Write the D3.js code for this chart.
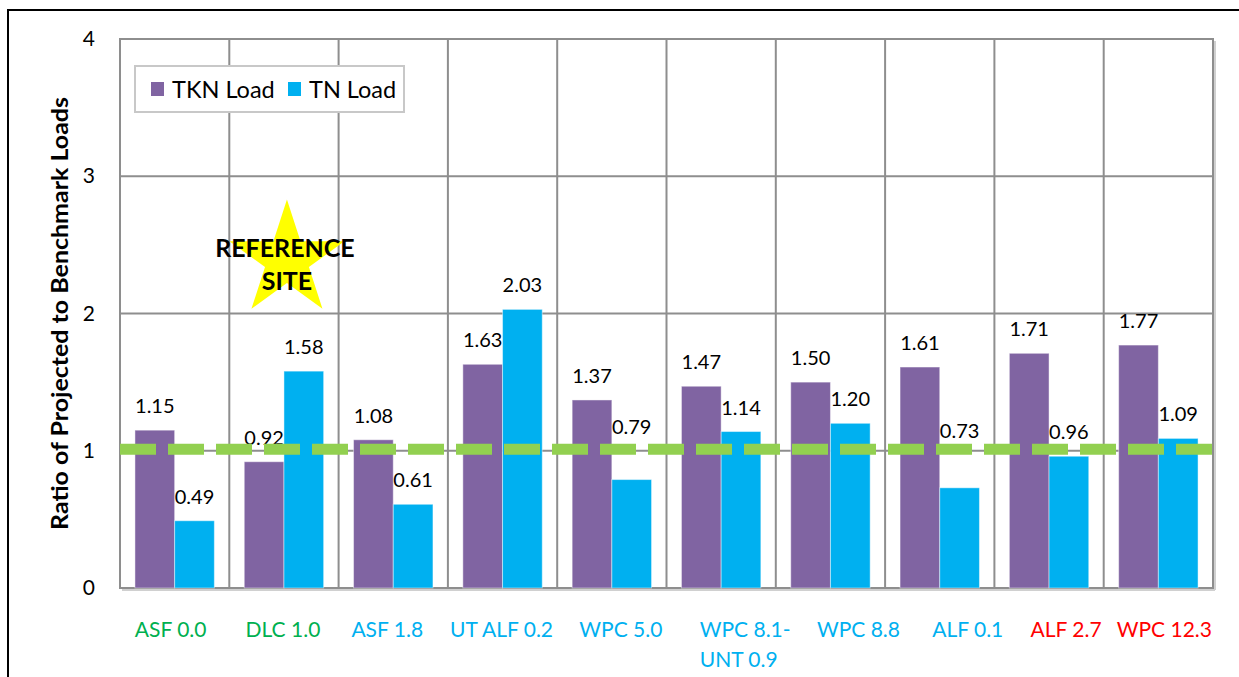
<!DOCTYPE html>
<html>
<head>
<meta charset="utf-8">
<script src="https://cdn.jsdelivr.net/npm/d3@7/dist/d3.min.js"></script>
<style>
  html, body { margin: 0; padding: 0; background: #fff; }
  svg { display: block; font-family: Lato, "Open Sans", "Liberation Sans", sans-serif; }
</style>
</head>
<body>
<svg id="chart" width="1239" height="677"></svg>
<script>
// Sites along the river, in chart order
const categories = ["ASF 0.0", "DLC 1.0", "ASF 1.8", "UT ALF 0.2", "WPC 5.0",
                    "WPC 8.1-\nUNT 0.9", "WPC 8.8", "ALF 0.1", "ALF 2.7", "WPC 12.3"];
// Ratio of projected to benchmark loads
const tknLoad = [1.15, 0.92, 1.08, 1.63, 1.37, 1.47, 1.50, 1.61, 1.71, 1.77];
const tnLoad  = [0.49, 1.58, 0.61, 2.03, 0.79, 1.14, 1.20, 0.73, 0.96, 1.09];
const seriesNames = ["TKN Load", "TN Load"];
const yTicks = [0, 1, 2, 3, 4];
const benchmark = 1;          // ratio of 1 = benchmark
const referenceSite = "DLC 1.0";

// Styling / layout helpers
const seriesColors = ["#8064A2", "#00B0F0"];
const labelColors = ["#00B050", "#00B050", "#00B0F0", "#00B0F0", "#00B0F0",
                     "#00B0F0", "#00B0F0", "#00B0F0", "#FF0000", "#FF0000"];
const labelShift = [-4, -1, -6, -1, 9, 24, 28, 28, 17, 6];       // px, category label nudges
const tnLabelLift = [0, 0, 0, 0, 0.21, 0, 0, 0.24, 0, 0];          // value units, keeps labels clear of the line

const svg = d3.select("#chart");
const W = 1239, H = 677;
const plot = { left: 120, right: 1213, top: 39, bottom: 588 };

// Outer frame
svg.append("rect").attr("x", 8).attr("y", 10).attr("width", W).attr("height", H + 40)
  .attr("fill", "none").attr("stroke", "#000").attr("stroke-width", 2);

const x = d3.scaleBand().domain(categories).range([plot.left, plot.right]).padding(0);
const x1 = d3.scaleBand().domain(seriesNames).range([0, x.bandwidth()])
  .paddingInner(0).paddingOuter(0.3766);
const y = d3.scaleLinear().domain([0, 4]).range([plot.bottom, plot.top]);

const gridColor = "#8E8E8E";

// Horizontal gridlines
svg.append("g").selectAll("line").data(yTicks.filter(t => t > 0)).join("line")
  .attr("x1", plot.left).attr("x2", plot.right)
  .attr("y1", d => y(d)).attr("y2", d => y(d))
  .attr("stroke", gridColor).attr("stroke-width", 2);

// Vertical gridlines at category boundaries
svg.append("g").selectAll("line").data(categories.slice(1)).join("line")
  .attr("x1", d => x(d)).attr("x2", d => x(d))
  .attr("y1", plot.top).attr("y2", plot.bottom)
  .attr("stroke", gridColor).attr("stroke-width", 2);

// Plot frame (with a light shadow on right/bottom)
svg.append("line").attr("x1", plot.right + 2).attr("x2", plot.right + 2)
  .attr("y1", plot.top + 2).attr("y2", plot.bottom + 2).attr("stroke", "#d0d0d0").attr("stroke-width", 2);
svg.append("line").attr("x1", plot.left + 2).attr("x2", plot.right + 2)
  .attr("y1", plot.bottom + 2).attr("y2", plot.bottom + 2).attr("stroke", "#d0d0d0").attr("stroke-width", 2);
svg.append("rect").attr("x", plot.left).attr("y", plot.top)
  .attr("width", plot.right - plot.left).attr("height", plot.bottom - plot.top)
  .attr("fill", "none").attr("stroke", gridColor).attr("stroke-width", 2);

// Y axis tick labels
const yAxis = d3.axisLeft(y).tickValues(yTicks).tickFormat(d3.format("d")).tickSize(0).tickPadding(25);
const gy = svg.append("g").attr("transform", `translate(${plot.left},0)`).call(yAxis);
gy.select(".domain").remove();
gy.selectAll("text").attr("font-size", 21).attr("fill", "#000")
  .attr("font-family", "Lato, sans-serif");

// Y axis title
svg.append("text")
  .attr("transform", `translate(59,${(97 + 530) / 2}) rotate(-90)`)
  .attr("text-anchor", "middle").attr("dominant-baseline", "central")
  .attr("font-size", 22).attr("font-weight", "bold").attr("fill", "#000")
  .attr("textLength", 433).attr("lengthAdjust", "spacingAndGlyphs")
  .text("Ratio of Projected to Benchmark Loads");

// Bars
const rows = categories.map((c, i) => ({ cat: c, i, values: [tknLoad[i], tnLoad[i]] }));
const groups = svg.append("g").selectAll("g").data(rows).join("g")
  .attr("transform", d => `translate(${x(d.cat)},0)`);
groups.selectAll("rect").data(d => d.values.map((v, k) => ({ v, k, name: seriesNames[k] }))).join("rect")
  .attr("x", d => x1(d.name)).attr("width", x1.bandwidth())
  .attr("y", d => y(d.v)).attr("height", d => y(0) - y(d.v))
  .attr("fill", d => seriesColors[d.k])
  .attr("stroke", "rgba(255,255,255,0.45)").attr("stroke-width", 1);

// Benchmark line
svg.append("line")
  .attr("x1", plot.left).attr("x2", plot.right)
  .attr("y1", y(benchmark) - 1.5).attr("y2", y(benchmark) - 1.5)
  .attr("stroke", "#92D050").attr("stroke-width", 11)
  .attr("stroke-dasharray", "36 12");

// Value labels
const fmt = d3.format(".2f");
groups.selectAll("text.val").data(d => d.values.map((v, k) => ({
    v, k, name: seriesNames[k], lift: k === 1 ? tnLabelLift[d.i] : 0 }))).join("text")
  .attr("class", "val")
  .attr("x", d => x1(d.name) + x1.bandwidth() / 2)
  .attr("y", d => y(d.v + d.lift) - 25)
  .attr("text-anchor", "middle").attr("dominant-baseline", "central")
  .attr("font-size", 20).attr("fill", "#000")
  .text(d => fmt(d.v));

// Category labels
const catLabels = svg.append("g").selectAll("text").data(categories).join("text")
  .attr("font-size", 21)
  .attr("fill", (d, i) => labelColors[i]);
catLabels.each(function (d, i) {
  const t = d3.select(this);
  const lines = d.split("\n");
  const cx = x(d) + x.bandwidth() / 2 + labelShift[i];
  lines.forEach((ln, j) => {
    t.append("tspan").attr("y", 628 + j * 30).attr("dominant-baseline", "central").text(ln);
  });
  if (lines.length === 1) {
    t.attr("text-anchor", "middle").selectAll("tspan").attr("x", cx);
  } else {
    const widths = t.selectAll("tspan").nodes().map(n => n.getComputedTextLength());
    const x0 = cx - d3.max(widths) / 2;
    t.attr("text-anchor", "start").selectAll("tspan").attr("x", x0);
  }
});

// Legend
const legend = svg.append("g");
legend.append("rect").attr("x", 135).attr("y", 66).attr("width", 269).attr("height", 46)
  .attr("fill", "#fff").attr("stroke", "#C8C8C8").attr("stroke-width", 2);
const legendX = [151, 288];
seriesNames.forEach((name, k) => {
  legend.append("rect").attr("x", legendX[k]).attr("y", 82).attr("width", 13).attr("height", 14)
    .attr("fill", seriesColors[k]);
  legend.append("text").attr("x", legendX[k] + 21).attr("y", 89)
    .attr("dominant-baseline", "central").attr("font-size", 23.5).attr("fill", "#000")
    .text(name);
});

// Reference site star
const starX = x(referenceSite) + x.bandwidth() / 2 + 3;
const starY = y(2.39);
const starR = 60.4;
svg.append("path")
  .attr("d", d3.symbol(d3.symbolStar, starR * starR / 0.8908130915292852)())
  .attr("transform", `translate(${starX},${starY})`)
  .attr("fill", "#FFFF00");
svg.append("text").attr("x", starX - 2).attr("y", starY - 13)
  .attr("text-anchor", "middle").attr("dominant-baseline", "central")
  .attr("font-size", 25).attr("font-weight", "bold").attr("fill", "#000")
  .text("REFERENCE");
svg.append("text").attr("x", starX).attr("y", starY + 20)
  .attr("text-anchor", "middle").attr("dominant-baseline", "central")
  .attr("font-size", 25).attr("font-weight", "bold").attr("fill", "#000")
  .text("SITE");
</script>
</body>
</html>
